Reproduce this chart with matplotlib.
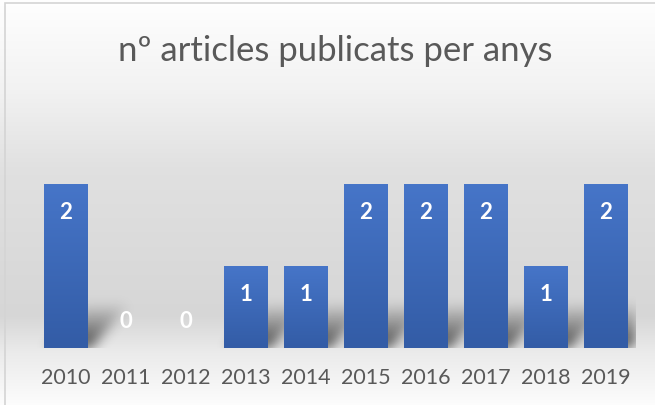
import numpy as np
import matplotlib.pyplot as plt
from matplotlib.patches import Rectangle
from matplotlib.colors import LinearSegmentedColormap

# data
years = ['2010', '2011', '2012', '2013', '2014', '2015', '2016', '2017', '2018', '2019']
articles = [2, 0, 0, 1, 1, 2, 2, 2, 1, 2]
title = 'nº articles publicats per anys'

text_col = '#595959'
bar_top = '#4675c8'
bar_bot = '#335ca6'
bar_w = 0.72

fig = plt.figure(figsize=(6.55, 4.06), dpi=100)

# background gradient over the whole chart
bg = fig.add_axes([0, 0, 1, 1], zorder=-2)
rows = np.linspace(0, 1, 400)
stops = [0.0, 0.22, 0.42, 0.78, 0.87, 1.0]
vals = [1.0, 0.95, 0.88, 0.84, 0.92, 0.99]
g = np.interp(rows, stops, vals).reshape(-1, 1)
bg.imshow(np.dstack([g, g, g]), aspect='auto', extent=[0, 1, 0, 1],
          origin='upper')
bg.set_xlim(0, 1)
bg.set_ylim(0, 1)
bg.axis('off')
bg.add_patch(Rectangle((5 / 655, -0.1), 1.1, 1 - 4 / 406 + 0.1, fill=False,
                       edgecolor='#d4d4d4', lw=1.2))

ax = fig.add_axes([35.5 / 655, 57 / 406, 600 / 655, 205 / 406])
ax.patch.set_alpha(0)
x = np.arange(len(years))
ax.set_xlim(-0.5, len(years) - 0.5)
ax.set_ylim(0, 2.5)

# soft shadow at the foot of each bar
xs = np.linspace(-0.5, len(years) - 0.5, 600)
ys = np.linspace(0, 2.5, 205)
mask = np.zeros((len(ys), len(xs)))
sh = 0.55
for i, v in enumerate(articles):
    if v <= 0:
        continue
    for j, yy in enumerate(ys):
        if yy > min(sh, v):
            break
        shift = yy / sh * 0.65 + 0.06
        fade = 1 - yy / sh
        sel = (xs > i - bar_w / 2 + shift) & (xs < i + bar_w / 2 + shift)
        mask[j, sel] = np.maximum(mask[j, sel], fade)
k = np.exp(-0.5 * (np.arange(-18, 19) / 6.0) ** 2)
k /= k.sum()
mask = np.apply_along_axis(lambda r: np.convolve(r, k, mode='same'), 1, mask)
mask = np.apply_along_axis(lambda c: np.convolve(c, k, mode='same'), 0, mask)
shadow = np.zeros((len(ys), len(xs), 4))
shadow[..., 3] = np.clip(mask * 0.7, 0, 1)
ax.imshow(shadow, extent=[-0.5, len(years) - 0.5, 0, 2.5], origin='lower',
          aspect='auto', zorder=1)

cmap = LinearSegmentedColormap.from_list('b', [bar_bot, bar_top])
bars = ax.bar(x, articles, width=bar_w, color=bar_bot, zorder=2)
grad = np.linspace(0, 1, 100).reshape(-1, 1)
for b in bars:
    h = b.get_height()
    if h <= 0:
        continue
    im = ax.imshow(grad, cmap=cmap, origin='lower', aspect='auto', zorder=3,
                   extent=[b.get_x(), b.get_x() + b.get_width(), 0, h])
    im.set_clip_path(b)

for xi, v in zip(x, articles):
    yl = v - 0.34 if v > 0 else 0.34
    ax.text(xi, yl, str(v), ha='center', va='center', color='white',
            fontsize=16, fontweight='bold', family='Lato', zorder=4)

ax.set_xticks(x)
ax.set_xticklabels(years, fontsize=15.5, color=text_col, family='Lato')
ax.tick_params(axis='x', length=0, pad=14)
ax.set_yticks([])
for s in ax.spines.values():
    s.set_visible(False)

fig.text(335 / 655, 1 - 51 / 406, title, ha='center', va='center',
         fontsize=25, color=text_col, family='Lato')

fig.savefig('out.png', dpi=100)
